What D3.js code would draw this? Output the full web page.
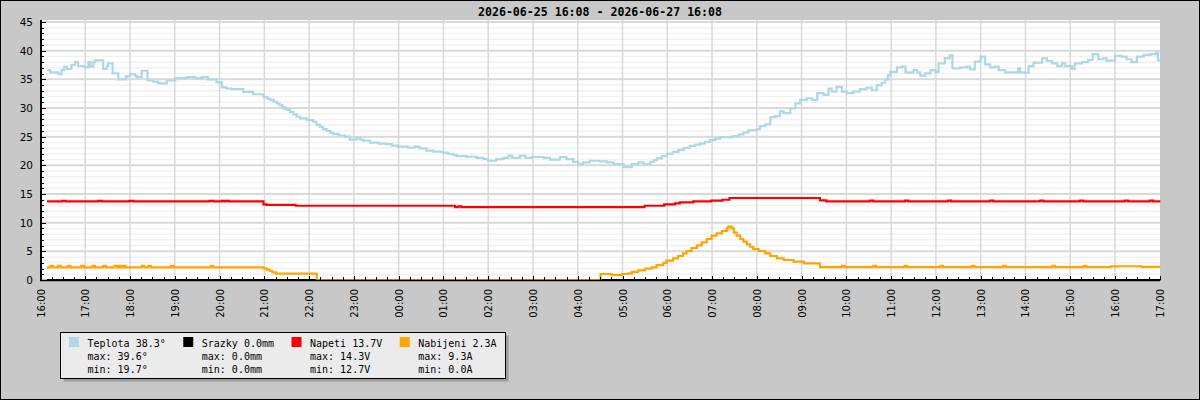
<!DOCTYPE html>
<html>
<head>
<meta charset="utf-8">
<script src="https://cdn.jsdelivr.net/npm/d3@7"></script>
<style>
  body { margin: 0; background: #c8c8c8; }
  svg { display: block; }
</style>
</head>
<body>
<div id="chart"></div>
<script>
// time axis: hours since 16:00 on the first day
const chartTitle = "2026-06-25 16:08 - 2026-06-27 16:08";
const hourLabels = ["16:00", "17:00", "18:00", "19:00", "20:00", "21:00", "22:00", "23:00",
  "00:00", "01:00", "02:00", "03:00", "04:00", "05:00", "06:00", "07:00", "08:00", "09:00",
  "10:00", "11:00", "12:00", "13:00", "14:00", "15:00", "16:00", "17:00"];
const yMajorTicks = [0, 5, 10, 15, 20, 25, 30, 35, 40, 45];

const seriesNames = ["Teplota", "Srazky", "Napeti", "Nabijeni"];
const seriesColors = ["#add8e6", "#000000", "#ff0000", "#ffa500"];
const seriesUnits = ["°", "mm", "V", "A"];

// [hour, value] steps
const teplota = [
  [0.17, 36.6], [0.22, 36.2], [0.40, 35.9], [0.47, 36.6], [0.53, 37.2], [0.59, 36.8],
  [0.69, 37.5], [0.77, 38.0], [0.84, 37.3], [0.99, 37.1], [1.07, 38.0], [1.12, 37.2],
  [1.18, 38.0], [1.22, 38.3], [1.40, 36.8], [1.48, 37.3], [1.51, 37.8], [1.61, 36.05],
  [1.74, 35.0], [1.91, 35.5], [2.00, 35.9], [2.11, 35.6], [2.15, 35.4], [2.26, 36.5],
  [2.39, 34.8], [2.52, 34.6], [2.63, 34.3], [2.82, 34.8], [3.01, 35.2], [3.27, 35.4],
  [3.45, 35.2], [3.60, 35.4], [3.74, 35.0], [3.93, 34.5], [4.05, 33.6], [4.15, 33.4],
  [4.27, 33.3], [4.53, 32.8], [4.75, 32.4], [4.98, 31.9], [5.07, 31.6], [5.13, 31.4],
  [5.21, 31.1], [5.28, 30.8], [5.34, 30.5], [5.40, 30.2], [5.45, 29.9], [5.50, 29.7],
  [5.57, 29.3], [5.65, 28.9], [5.72, 28.5], [5.80, 28.2], [5.95, 27.9], [6.09, 27.6],
  [6.16, 27.1], [6.24, 26.7], [6.31, 26.3], [6.39, 26.0], [6.47, 25.7], [6.54, 25.5],
  [6.66, 25.2], [6.80, 25.0], [6.91, 24.5], [7.06, 24.8], [7.14, 24.5], [7.21, 24.3],
  [7.36, 23.95], [7.55, 23.8], [7.72, 23.7], [7.85, 23.45], [7.98, 23.25], [8.21, 23.1],
  [8.36, 23.25], [8.47, 22.97], [8.62, 22.55], [8.77, 22.4], [8.99, 22.2], [9.10, 22.0],
  [9.22, 21.8], [9.29, 21.6], [9.52, 21.5], [9.74, 21.3], [9.89, 21.1], [10.00, 20.8],
  [10.18, 21.1], [10.34, 21.3], [10.45, 21.7], [10.53, 21.3], [10.71, 21.7], [10.83, 21.3],
  [10.98, 21.45], [11.24, 21.3], [11.38, 21.0], [11.60, 21.45], [11.75, 21.1], [11.90, 20.6],
  [12.01, 20.2], [12.12, 20.5], [12.27, 20.8], [12.50, 20.7], [12.65, 20.5], [12.80, 20.2],
  [13.02, 19.7], [13.21, 20.2], [13.36, 20.5], [13.47, 20.2], [13.62, 20.6], [13.70, 20.9],
  [13.77, 21.2], [13.88, 21.6], [13.99, 22.0], [14.12, 22.35], [14.25, 22.7], [14.37, 23.05],
  [14.50, 23.4], [14.62, 23.6], [14.73, 23.8], [14.84, 24.1], [14.95, 24.4], [15.07, 24.65],
  [15.18, 24.9], [15.48, 25.1], [15.60, 25.4], [15.70, 25.7], [15.81, 26.1], [16.00, 26.3],
  [16.07, 26.85], [16.19, 27.15], [16.30, 28.4], [16.41, 28.6], [16.52, 29.4], [16.60, 29.1],
  [16.75, 29.95], [16.86, 30.8], [16.97, 31.4], [17.12, 31.7], [17.23, 31.4], [17.35, 32.6],
  [17.49, 32.3], [17.60, 33.4], [17.67, 32.85], [17.78, 33.7], [17.90, 32.85], [18.01, 32.6],
  [18.15, 32.85], [18.30, 33.3], [18.45, 33.55], [18.57, 33.1], [18.68, 34.0], [18.79, 34.4],
  [18.87, 35.0], [18.93, 35.7], [18.98, 36.3], [19.13, 37.1], [19.24, 37.2], [19.32, 36.2],
  [19.50, 36.6], [19.58, 36.2], [19.65, 35.65], [19.76, 36.05], [19.88, 36.6], [19.99, 36.3],
  [20.06, 37.8], [20.20, 38.7], [20.31, 39.2], [20.37, 36.9], [20.54, 37.1], [20.69, 37.2],
  [20.76, 36.75], [20.87, 38.1], [21.00, 38.95], [21.10, 37.6], [21.21, 37.1], [21.32, 37.2],
  [21.40, 36.6], [21.55, 36.2], [21.84, 36.9], [21.88, 36.2], [21.99, 36.15], [22.07, 37.3],
  [22.18, 37.9], [22.37, 38.65], [22.48, 38.2], [22.59, 37.8], [22.71, 37.3], [22.82, 37.8],
  [22.89, 37.3], [23.04, 36.8], [23.10, 37.8], [23.26, 38.0], [23.40, 38.4], [23.50, 39.4],
  [23.63, 38.5], [23.74, 38.65], [23.81, 38.25], [24.00, 39.1], [24.15, 38.95], [24.26, 38.5],
  [24.37, 38.0], [24.49, 38.95], [24.64, 39.25], [24.79, 39.4], [24.92, 39.6], [24.96, 38.3],
  [24.99, 38.3]
];

const srazky = [[0.17, 0.0], [24.99, 0.0]];

const napeti = [
  [0.17, 13.7], [0.49, 13.8], [0.56, 13.7], [1.29, 13.8], [1.36, 13.7], [1.99, 13.8],
  [2.07, 13.7], [3.78, 13.8], [3.86, 13.7], [4.05, 13.8], [4.11, 13.7], [4.15, 13.8],
  [4.21, 13.7], [4.98, 13.2], [5.05, 13.1], [5.70, 12.95], [9.26, 12.7], [9.33, 12.85],
  [9.40, 12.7], [13.49, 12.95], [13.93, 13.2], [14.17, 13.35], [14.28, 13.55], [14.58, 13.7],
  [14.98, 13.85], [15.23, 14.0], [15.39, 14.3], [17.41, 13.9], [17.55, 13.7], [18.53, 13.85],
  [18.60, 13.7], [19.31, 13.85], [19.38, 13.7], [20.27, 13.85], [20.34, 13.7], [21.21, 13.85],
  [21.28, 13.7], [22.33, 13.85], [22.40, 13.7], [23.22, 13.85], [23.29, 13.7], [24.22, 13.85],
  [24.29, 13.7], [24.78, 13.85], [24.85, 13.7], [24.99, 13.7]
];

const nabijeni = [
  [0.17, 2.2], [0.22, 2.45], [0.28, 2.2], [0.39, 2.45], [0.45, 2.2], [0.61, 2.45], [0.67, 2.2],
  [0.91, 2.45], [0.97, 2.2], [1.16, 2.45], [1.22, 2.2], [1.40, 2.45], [1.46, 2.2], [1.65, 2.45],
  [1.71, 2.2], [1.76, 2.45], [1.80, 2.2], [1.85, 2.45], [1.90, 2.2], [2.26, 2.45], [2.32, 2.2],
  [2.41, 2.45], [2.47, 2.2], [2.91, 2.45], [2.97, 2.2], [3.80, 2.45], [3.86, 2.2],
  [4.98, 2.04], [5.05, 1.8], [5.12, 1.57], [5.18, 1.34], [5.26, 1.1], [6.17, 0.0],
  [12.51, 1.05], [12.76, 0.87], [12.98, 1.05], [13.13, 1.16], [13.21, 1.4], [13.35, 1.68],
  [13.50, 1.98], [13.65, 2.2], [13.76, 2.6], [13.91, 3.0], [13.98, 3.37], [14.13, 3.78],
  [14.24, 4.19], [14.35, 4.65], [14.43, 5.06], [14.54, 5.58], [14.66, 6.05], [14.77, 6.57],
  [14.88, 7.15], [14.99, 7.73], [15.10, 8.14], [15.22, 8.55], [15.33, 9.0], [15.36, 9.3],
  [15.44, 9.0], [15.49, 8.26], [15.55, 7.73], [15.63, 7.15], [15.70, 6.68], [15.78, 6.22],
  [15.85, 5.8], [15.92, 5.4], [16.04, 5.06], [16.19, 4.65], [16.30, 4.19], [16.45, 3.78],
  [16.60, 3.49], [16.82, 3.2], [17.05, 2.9], [17.41, 2.25], [17.90, 2.45], [17.96, 2.25],
  [18.60, 2.45], [18.66, 2.25], [19.30, 2.45], [19.36, 2.25], [20.10, 2.45], [20.16, 2.25],
  [20.80, 2.45], [20.86, 2.25], [21.50, 2.45], [21.56, 2.25], [22.60, 2.45], [22.66, 2.25],
  [23.30, 2.45], [23.36, 2.25], [23.90, 2.4], [24.60, 2.3], [24.99, 2.3]
];

const allSeries = [teplota, srazky, napeti, nabijeni];

const width = 1200;
const height = 400;

const svg = d3.select("#chart").append("svg")
  .attr("width", width)
  .attr("height", height);

// frame
svg.append("rect")
  .attr("x", 0.5).attr("y", 0.5)
  .attr("width", width - 1).attr("height", height - 1)
  .attr("fill", "#c8c8c8").attr("stroke", "#000");

const xScale = d3.scaleLinear().domain([0, 25]).range([40.5, 1159.75]);
const yScale = d3.scaleLinear().domain([0, 45]).range([280, 22]);

// plot background
svg.append("rect")
  .attr("x", 41).attr("y", 20)
  .attr("width", 1160 - 41).attr("height", 260)
  .attr("fill", "#fff");

// grid
const grid = svg.append("g");
grid.selectAll(".minor")
  .data(d3.range(1, 46).filter(d => d % 5 !== 0))
  .join("line")
  .attr("x1", 41).attr("x2", 1160)
  .attr("y1", d => yScale(d)).attr("y2", d => yScale(d))
  .attr("stroke", "#f2f2f2").attr("stroke-width", 1.5);

grid.selectAll(".major")
  .data(yMajorTicks.slice(1))
  .join("line")
  .attr("x1", 41).attr("x2", 1160)
  .attr("y1", d => yScale(d)).attr("y2", d => yScale(d))
  .attr("stroke", "#d9d9d9").attr("stroke-width", 2);

grid.selectAll(".vline")
  .data(d3.range(1, 25))
  .join("line")
  .attr("x1", d => xScale(d)).attr("x2", d => xScale(d))
  .attr("y1", 20).attr("y2", 280)
  .attr("stroke", "#d9d9d9").attr("stroke-width", 1.5);

// series
const line = d3.line()
  .x(d => xScale(d[0]))
  .y(d => yScale(d[1]))
  .curve(d3.curveStepAfter);

svg.append("g")
  .selectAll("path")
  .data(allSeries)
  .join("path")
  .attr("d", line)
  .attr("fill", "none")
  .attr("stroke", (d, i) => seriesColors[i])
  .attr("stroke-width", 2.2)
  .attr("stroke-linejoin", "miter")
  .attr("stroke-linecap", "square");

// y axis
const yMinorAxis = d3.axisLeft(yScale)
  .tickValues(d3.range(0, 46))
  .tickSize(-3)
  .tickFormat("");
const yAxis = d3.axisLeft(yScale)
  .tickValues(yMajorTicks)
  .tickSize(-5)
  .tickSizeOuter(0)
  .tickPadding(8);

svg.append("g").attr("transform", "translate(41,0)").call(yMinorAxis)
  .call(g => g.select(".domain").remove());
const yAxisG = svg.append("g").attr("transform", "translate(41,0)").call(yAxis);
yAxisG.select(".domain").remove();
yAxisG.selectAll("text")
  .attr("font-family", "DejaVu Sans")
  .attr("font-size", 10.5)
  .attr("fill", "#000");

// x axis
const xMinorAxis = d3.axisBottom(xScale)
  .tickValues(d3.range(0, 25.01, 0.25))
  .tickSize(-3)
  .tickFormat("");
const xAxis = d3.axisBottom(xScale)
  .tickValues(d3.range(0, 26))
  .tickSize(-4)
  .tickSizeOuter(0)
  .tickFormat((d, i) => hourLabels[i]);

svg.append("g").attr("transform", "translate(0,280)").call(xMinorAxis)
  .call(g => g.select(".domain").remove());
const xAxisG = svg.append("g").attr("transform", "translate(0,280)").call(xAxis);
xAxisG.select(".domain").remove();
xAxisG.selectAll("text")
  .attr("transform", "rotate(-90)")
  .attr("x", -9).attr("y", 0).attr("dy", "0.35em")
  .attr("text-anchor", "end")
  .attr("font-family", "DejaVu Sans")
  .attr("font-size", 10)
  .attr("fill", "#000");

svg.selectAll(".tick line").attr("stroke", "#000").attr("shape-rendering", "crispEdges");

// axis lines
svg.append("line")
  .attr("x1", 41).attr("x2", 41).attr("y1", 20).attr("y2", 281)
  .attr("stroke", "#000").attr("stroke-width", 2);
svg.append("line")
  .attr("x1", 40).attr("x2", 1160).attr("y1", 280.5).attr("y2", 280.5)
  .attr("stroke", "#000").attr("stroke-width", 1.5);

// title
svg.append("text")
  .attr("x", 600).attr("y", 15.5)
  .attr("text-anchor", "middle")
  .attr("font-family", "DejaVu Sans Mono")
  .attr("font-weight", "bold")
  .attr("font-size", 12)
  .attr("textLength", 244)
  .attr("lengthAdjust", "spacingAndGlyphs")
  .text(chartTitle);

// legend
const legendRows = allSeries.map((s, i) => {
  const vals = s.map(d => d[1]);
  const u = seriesUnits[i];
  return [
    `${seriesNames[i]} ${vals[vals.length - 1].toFixed(1)}${u}`,
    `max: ${d3.max(vals).toFixed(1)}${u}`,
    `min: ${d3.min(vals).toFixed(1)}${u}`
  ];
});

const charW = 6.02;
let colX = 69;
const colPos = legendRows.map(rows => {
  const x = colX;
  colX += 36 + rows[0].length * charW;
  return x;
});

svg.append("rect")
  .attr("x", 63.5).attr("y", 335.5)
  .attr("width", 445).attr("height", 46)
  .attr("fill", "#9c9c9c");
svg.append("rect")
  .attr("x", 60.5).attr("y", 332.5)
  .attr("width", 445).attr("height", 46)
  .attr("fill", "#ebebeb").attr("stroke", "#000");

const legend = svg.append("g")
  .selectAll("g")
  .data(legendRows)
  .join("g")
  .attr("transform", (d, i) => `translate(${colPos[i]},0)`);

legend.append("rect")
  .attr("x", 0).attr("y", 337)
  .attr("width", 10).attr("height", 10)
  .attr("fill", (d, i) => seriesColors[i]);

legend.selectAll("text")
  .data(d => d)
  .join("text")
  .attr("x", 18.5)
  .attr("y", (d, j) => 347 + j * 13.2)
  .attr("font-family", "DejaVu Sans Mono")
  .attr("font-size", 10)
  .attr("fill", "#000")
  .text(d => d);
</script>
</body>
</html>
